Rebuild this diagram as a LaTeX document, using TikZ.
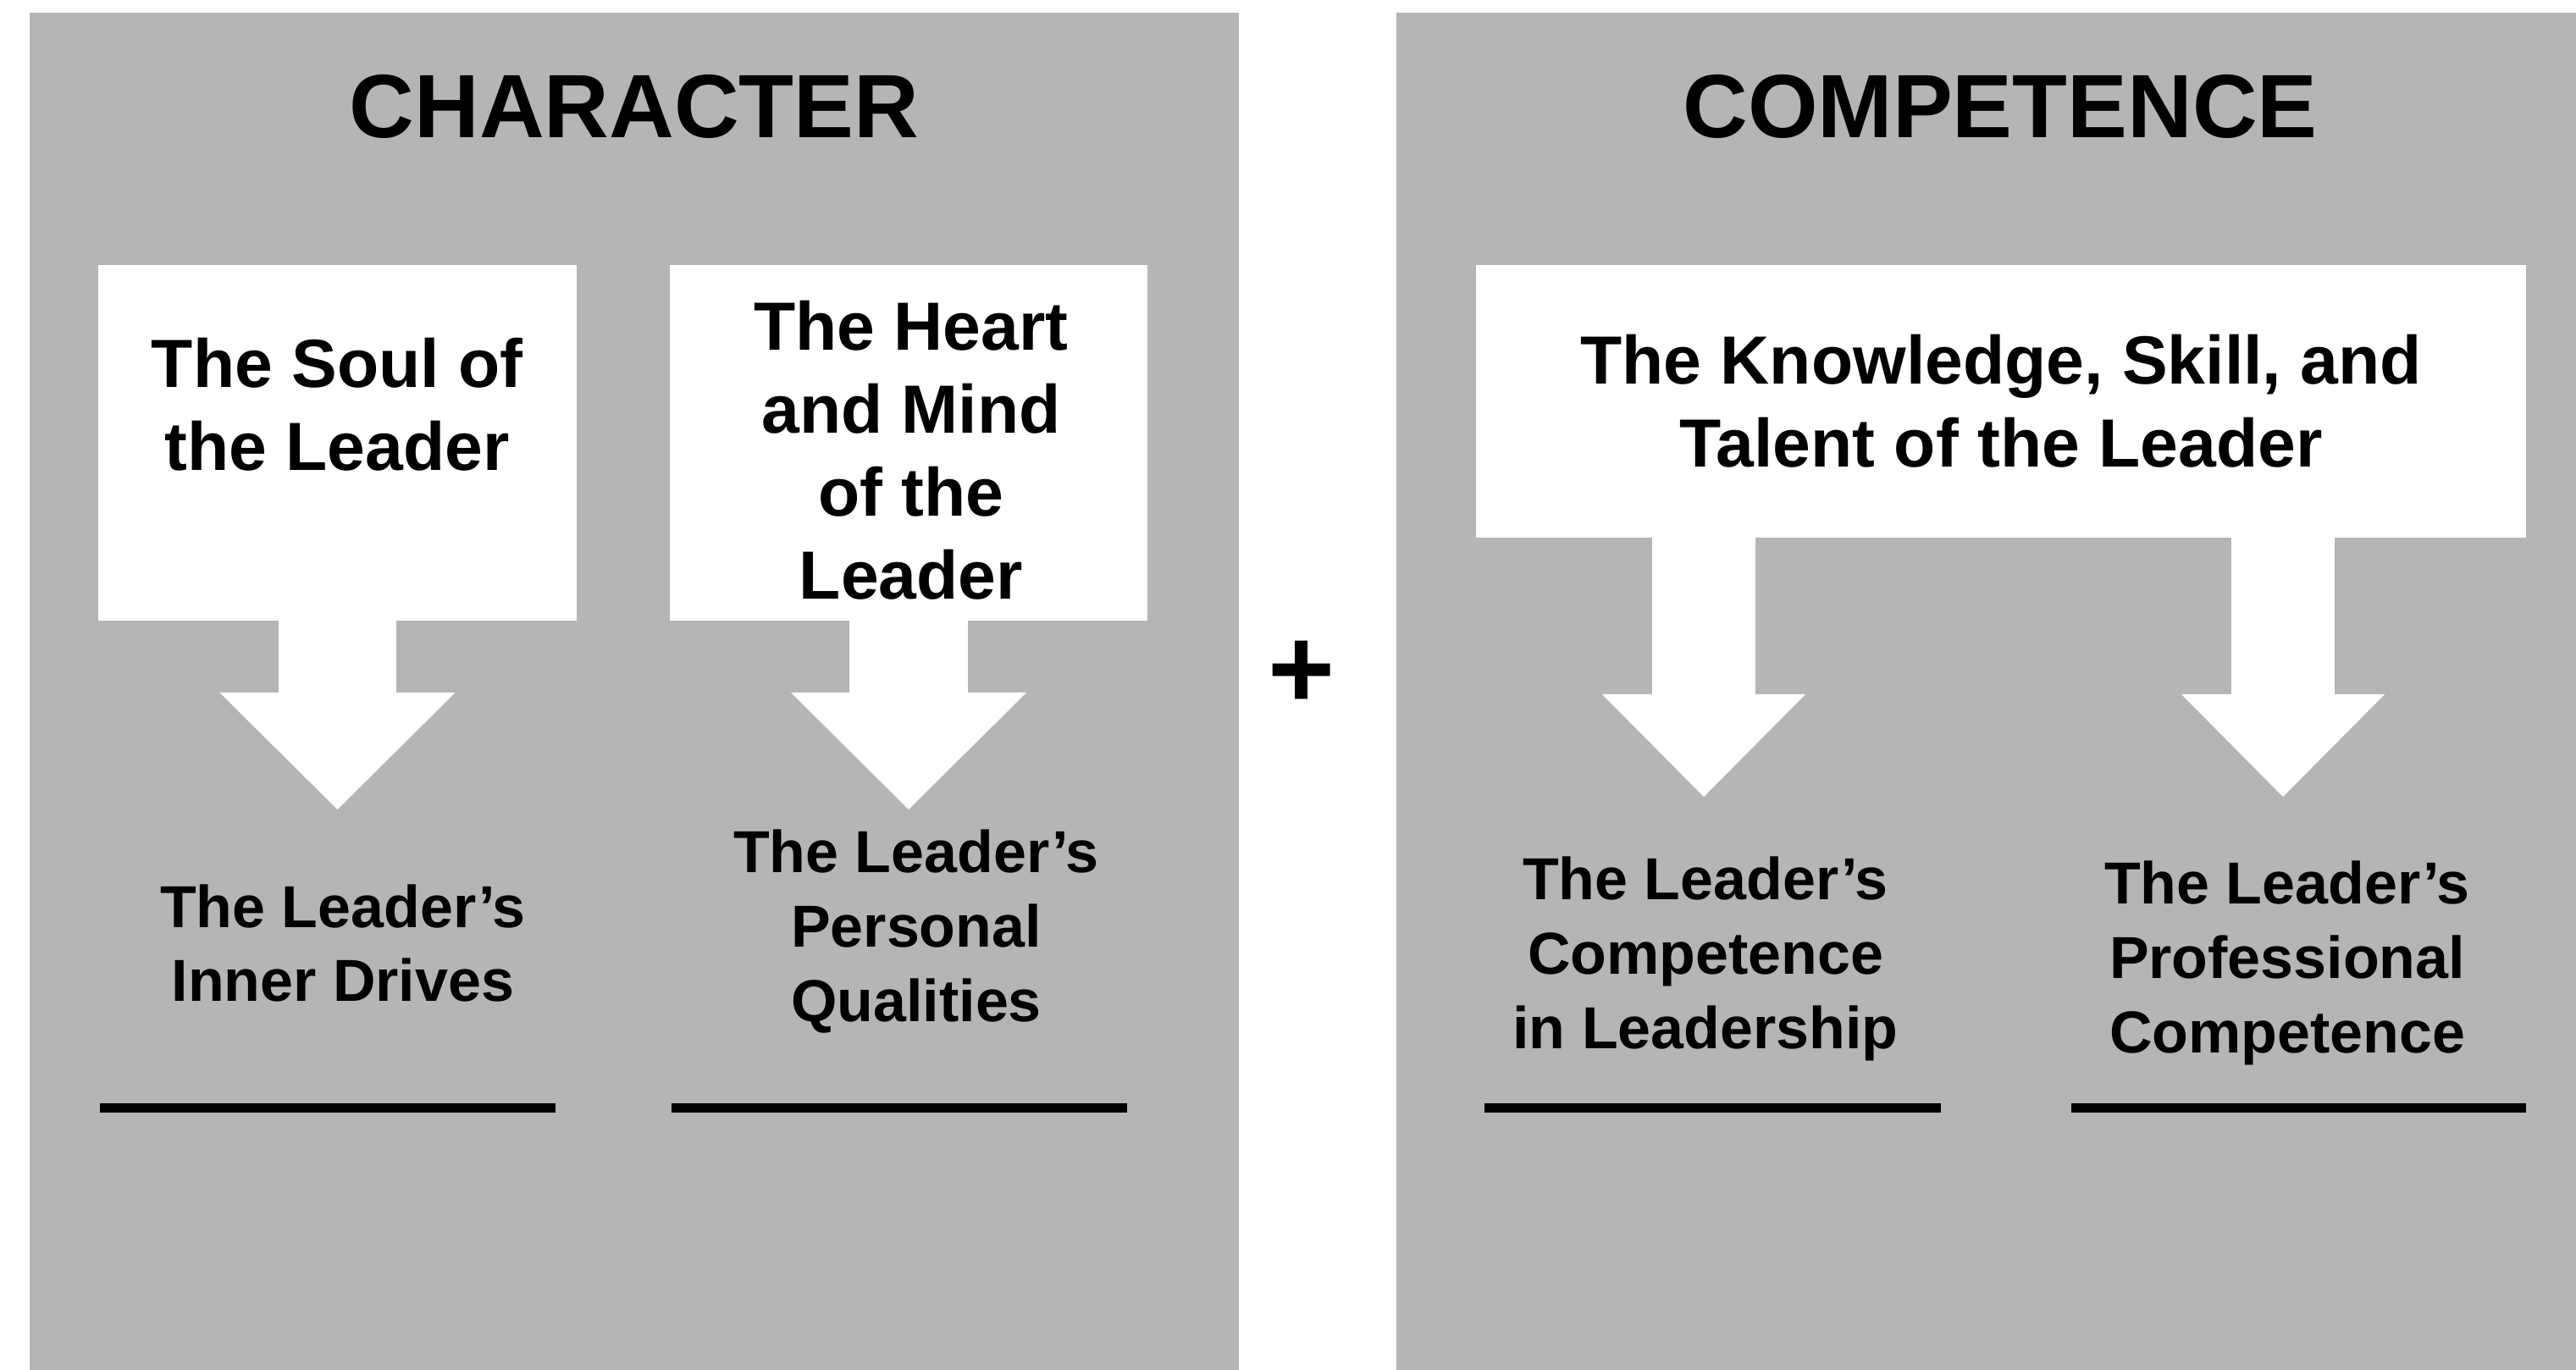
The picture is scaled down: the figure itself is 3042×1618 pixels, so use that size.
\documentclass[tikz,border=0pt]{standalone}
\usepackage{fontspec}
\setmainfont{Liberation Sans}
\usepackage{xcolor}
\usetikzlibrary{arrows.meta,positioning,calc}
\definecolor{panelgray}{RGB}{180,181,180}

\begin{document}
\begin{tikzpicture}[x=0.01cm, y=-0.01cm, every node/.style={inner sep=0pt, outer sep=0pt, align=center}, heading/.style={font=\fontsize{30.2}{36}\selectfont\bfseries}, whitebox/.style={fill=white, minimum height=4.2cm}, boxtext/.style={font=\fontsize{22.9}{27.9}\selectfont\bfseries}, result/.style={font=\fontsize{19.9}{25}\selectfont\bfseries}, blank/.style={line width=0.11cm}, bigarr/.style={draw=white, line width=1.39cm, -{Triangle[length=1.38cm, width=2.78cm, line width=0pt]}}, smallarr/.style={draw=white, line width=1.21cm, -{Triangle[length=1.21cm, width=2.4cm, line width=0pt]}}]
\useasboundingbox (0,0) rectangle (3042,1618);
\fill[white] (0,0) rectangle (3042,1618);
\fill[panelgray] (35,15) rectangle (1463,1618);
\fill[panelgray] (1649,15) rectangle (3042,1618);
\node[heading] (chartitle) at (749,126) {CHARACTER};
\node[heading] (comptitle) at (2362,126) {COMPETENCE};
\node[font=\fontsize{38.5}{40}\selectfont\bfseries] (plus) at (1537,797) {+};
\node[whitebox, minimum width=5.65cm] (soul) at (398.5,523) {};
\node[boxtext] (soultext) at (398,478) {The Soul of\\the Leader};
\node[whitebox, minimum width=5.64cm] (heart) at (1073,523) {};
\node[boxtext] (hearttext) at (1076,532) {The Heart\\and Mind\\of the\\Leader};
\node[whitebox, boxtext, minimum width=12.4cm, minimum height=3.22cm] (knowledge) at (2363,474) {The Knowledge, Skill, and\\Talent of the Leader};
\node[result] (drives) at (405,1114) {The Leader’s\\Inner Drives};
\node[result] (qualities) at (1082,1100) {The Leader’s\\Personal\\Qualities};
\node[result] (leadcomp) at (2014,1132) {The Leader’s\\Competence\\in Leadership};
\node[result] (profcomp) at (2701,1137) {The Leader’s\\Professional\\Competence};
\coordinate (tipA) at (398.5,956);
\coordinate (tipB) at (1073,956);
\coordinate (tipC) at (2012,941);
\coordinate (tipD) at (2696,941);
\draw[bigarr] (soul.south) -- (tipA); \draw[bigarr] (heart.south) -- (tipB); \draw[smallarr] (knowledge.south -| tipC) -- (tipC); \draw[smallarr] (knowledge.south -| tipD) -- (tipD);
\draw[blank] (118,1308) -- (656,1308); \draw[blank] (793,1308) -- (1331,1308); \draw[blank] (1753,1308) -- (2292,1308); \draw[blank] (2446,1308) -- (2983,1308);
\end{tikzpicture}
\end{document}
